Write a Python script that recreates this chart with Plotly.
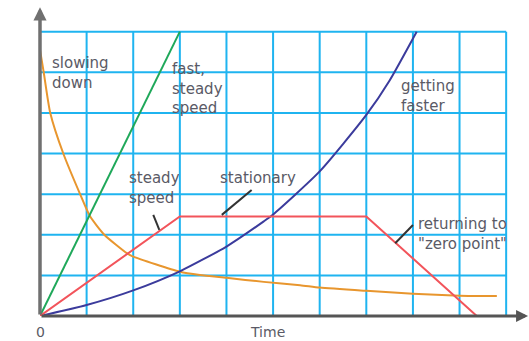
import plotly.graph_objects as go

# ---- data (grid units) ----
fast_x = [0, 3]
fast_y = [0, 7]

stat_x = [0, 3, 7, 9.37]
stat_y = [0, 2.45, 2.45, 0]

accel_x = [0, 1, 2, 3, 4, 4.8, 5, 6, 7, 7.5, 8.08]
accel_y = [0, 0.27, 0.63, 1.1, 1.71, 2.33, 2.5, 3.56, 4.95, 5.8, 7]

slow_x = [0, 0.08, 0.22, 0.5, 0.86, 1.07, 1.38, 1.87, 2.0, 3.0, 3.43, 4.0, 4.8, 5.58, 6, 7, 8, 9, 9.8]
slow_y = [6.55, 6, 5, 4, 3, 2.46, 2, 1.54, 1.46, 1.09, 1.01, 0.94, 0.84, 0.76, 0.70, 0.62, 0.55, 0.5, 0.49]

grid_x = list(range(0, 11))
grid_y = list(range(0, 8))

GRID = "#1fb4f0"
AXIS = "#555555"
TEXT = "#5a5a66"
FONT = "DejaVu Sans"

fig = go.Figure()

fig.add_trace(go.Scatter(x=slow_x, y=slow_y, mode="lines", line=dict(color="#e8962e", width=2, shape="spline", smoothing=0.6), cliponaxis=False))
fig.add_trace(go.Scatter(x=fast_x, y=fast_y, mode="lines", line=dict(color="#1fa85a", width=2), cliponaxis=False))
fig.add_trace(go.Scatter(x=accel_x, y=accel_y, mode="lines", line=dict(color="#3b3b9c", width=2, shape="spline", smoothing=0.6), cliponaxis=False))
fig.add_trace(go.Scatter(x=stat_x, y=stat_y, mode="lines", line=dict(color="#f2545b", width=2), cliponaxis=False))

shapes = []
for gx in grid_x[1:]:
    shapes.append(dict(type="line", xref="x", yref="y", x0=gx, x1=gx, y0=0, y1=grid_y[-1],
                       line=dict(color=GRID, width=2), layer="below"))
for gy in grid_y[1:]:
    shapes.append(dict(type="line", xref="x", yref="y", x0=0, x1=grid_x[-1], y0=gy, y1=gy,
                       line=dict(color=GRID, width=2), layer="below"))

# pointer lines
for (x0, y0, x1, y1) in [(2.43, 2.49, 2.56, 2.12), (4.54, 3.10, 3.90, 2.49), (8.0, 2.24, 7.62, 1.79)]:
    shapes.append(dict(type="line", xref="x", yref="y", x0=x0, y0=y0, x1=x1, y1=y1,
                       line=dict(color="#333333", width=2), layer="above"))

annotations = [
    # axes with arrows
    dict(x=10.47, y=0, ax=0, ay=0, xref="x", yref="y", axref="x", ayref="y", text="",
         showarrow=True, arrowhead=2, arrowsize=0.8, arrowwidth=3, arrowcolor=AXIS),
    dict(x=0, y=7.6, ax=0, ay=0, xref="x", yref="y", axref="x", ayref="y", text="",
         showarrow=True, arrowhead=2, arrowsize=0.75, arrowwidth=3.5, arrowcolor="#707070"),
]

def label(x, y, text, size=15, **kw):
    d = dict(x=x, y=y, xref="x", yref="y", text=text, showarrow=False, xanchor="left",
             yanchor="middle", align="left", font=dict(family=FONT, size=size, color=TEXT))
    d.update(kw)
    annotations.append(d)

label(0.21, 5.98, "slowing<br>down")
label(2.79, 5.61, "fast,<br>steady<br>speed")
label(7.70, 5.41, "getting<br>faster")
label(1.87, 3.14, "steady<br>speed")
label(3.82, 3.40, "stationary")
label(8.07, 2.02, "returning to<br>\"zero point\"")
label(0, 0, "0", size=14, xanchor="center", yanchor="top", yshift=-6)
label(4.87, 0, "Time", size=14, xanchor="center", yanchor="top", yshift=-6)
label(-0.33, 3.35, "Distance", size=14, xanchor="center", textangle=-90)

fig.update_layout(
    width=529, height=341,
    margin=dict(l=40, r=0, t=0, b=25),
    paper_bgcolor="white", plot_bgcolor="white",
    showlegend=False,
    xaxis=dict(range=[0, 10.49], visible=False, fixedrange=True),
    yaxis=dict(range=[0, 7.78], visible=False, fixedrange=True),
    shapes=shapes,
    annotations=annotations,
)

fig.write_html("out.html", config={"displayModeBar": False},
               post_script="document.body.style.margin='0';document.body.style.overflow='hidden';")
